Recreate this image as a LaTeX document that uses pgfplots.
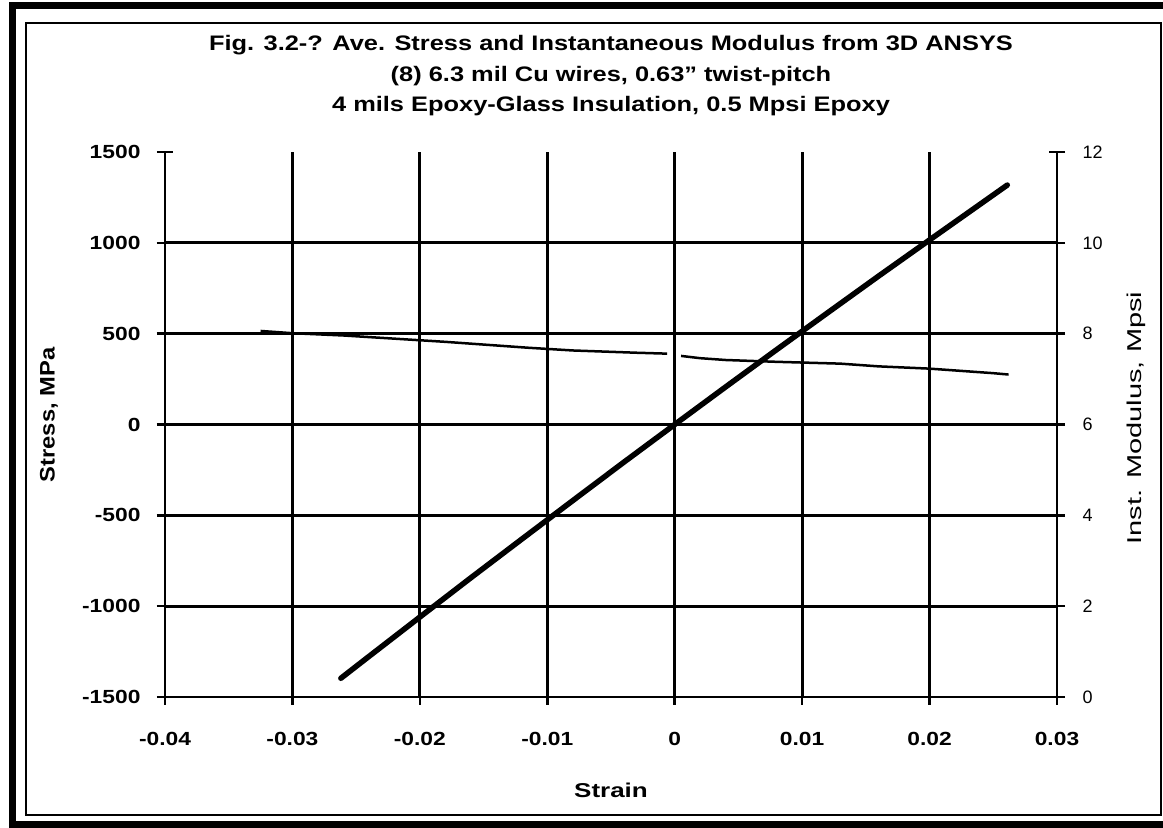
\documentclass[border=0pt]{standalone}
\usepackage{graphicx}
\usepackage{pgfplots}
\pgfplotsset{compat=1.18}
\usepackage{fontspec}
\setmainfont{Liberation Sans}
\newcommand{\sx}[1]{\scalebox{1.2}[1]{#1}}
\begin{document}
\begin{tikzpicture}[x=1pt,y=1pt]
\useasboundingbox (0,0) rectangle (1163,828);
\fill[white] (0,0) rectangle (1163,828);
\begin{scope}
\clip (0,0) rectangle (1163,828);
\draw[line width=7pt] (12,3) rectangle (1180,822);
\draw[line width=2pt] (26,13) rectangle (1161,805);
\end{scope}
\node[font=\bfseries\fontsize{21}{24}\selectfont] at (611,783) {\scalebox{1.21}[1]{Fig. 3.2-? Ave. Stress and Instantaneous Modulus from 3D ANSYS}};
\node[font=\bfseries\fontsize{21}{24}\selectfont] at (611,752) {\scalebox{1.21}[1]{(8) 6.3 mil Cu wires, 0.63'' twist-pitch}};
\node[font=\bfseries\fontsize{21}{24}\selectfont] at (611,722) {\scalebox{1.21}[1]{4 mils Epoxy-Glass Insulation, 0.5 Mpsi Epoxy}};
\node[font=\bfseries\fontsize{21}{24}\selectfont, rotate=90] at (49,413) {\scalebox{1.13}[1]{Stress, MPa}};
\node[font=\bfseries\fontsize{20}{24}\selectfont] at (611,38) {\scalebox{1.3}[1]{Strain}};
\node[font=\fontsize{20}{24}\selectfont, rotate=90] at (1136,410) {\scalebox{1.45}[1]{Inst. Modulus, Mpsi}};
\begin{axis}[
  scale only axis, width=892pt, height=545pt,
  at={(165pt,131pt)}, anchor=south west,
  xmin=-0.04, xmax=0.03, ymin=-1500, ymax=1500,
  axis x line*=bottom, axis y line*=left,
  scaled x ticks=false, scaled y ticks=false,
  xtick={-0.04,-0.03,-0.02,-0.01,0,0.01,0.02,0.03},
  xticklabels={\sx{-0.04},\sx{-0.03},\sx{-0.02},\sx{-0.01},\sx{0},\sx{0.01},\sx{0.02},\sx{0.03}},
  ytick={-1500,-1000,-500,0,500,1000,1500},
  yticklabels={\sx{-1500},\sx{-1000},\sx{-500},\sx{0},\sx{500},\sx{1000},\sx{1500}},
  xmajorgrids=true,
  extra y ticks={-1000,-500,0,500,1000},
  extra y tick labels={},
  extra y tick style={ymajorgrids=true},
  grid style={black, line width=2.8pt},
  tick align=center, major tick length=16pt,
  tick style={black, line width=2.5pt},
  axis line style={black, line width=2.5pt},
  ticklabel style={font=\bfseries\fontsize{19}{22}\selectfont},
  /pgf/number format/assume math mode=true,
  yticklabel style={xshift=-13pt},
  xticklabel style={yshift=-24pt},
]
\addplot[black, line width=5.5pt, line cap=round] coordinates {
(-0.0262,-1397) (-0.024,-1277) (-0.020,-1060) (-0.016,-844) (-0.012,-631)
(-0.008,-419) (-0.004,-208) (0,0) (0.004,207) (0.008,412) (0.012,615)
(0.016,817) (0.020,1016) (0.024,1214) (0.0261,1318)
};
\end{axis}
\begin{axis}[
  scale only axis, width=892pt, height=545pt,
  at={(165pt,131pt)}, anchor=south west,
  xmin=-0.04, xmax=0.03, ymin=0, ymax=12,
  axis x line=none, axis y line*=right,
  ytick={0,2,4,6,8,10,12},
  yticklabels={0,2,4,6,8,10,12},
  tick align=center, major tick length=16pt,
  tick style={black, line width=2.5pt},
  axis line style={black, line width=2.5pt},
  yticklabel style={font=\fontsize{18}{22}\selectfont, xshift=14pt},
  /pgf/number format/assume math mode=true,
]
\addplot[black, line width=2.5pt] coordinates {
(-0.0325,8.06) (-0.030,8.01) (-0.026,7.96) (-0.022,7.89) (-0.018,7.82)
(-0.015,7.76) (-0.0115,7.69) (-0.008,7.63) (-0.003,7.58) (-0.0006,7.56)
};
\addplot[black, line width=2.5pt] coordinates {
(0.0005,7.51) (0.002,7.46) (0.004,7.42) (0.008,7.38) (0.013,7.34)
(0.016,7.28) (0.020,7.23) (0.0225,7.18) (0.025,7.13) (0.0262,7.10)
};
\end{axis}
\end{tikzpicture}
\end{document}
